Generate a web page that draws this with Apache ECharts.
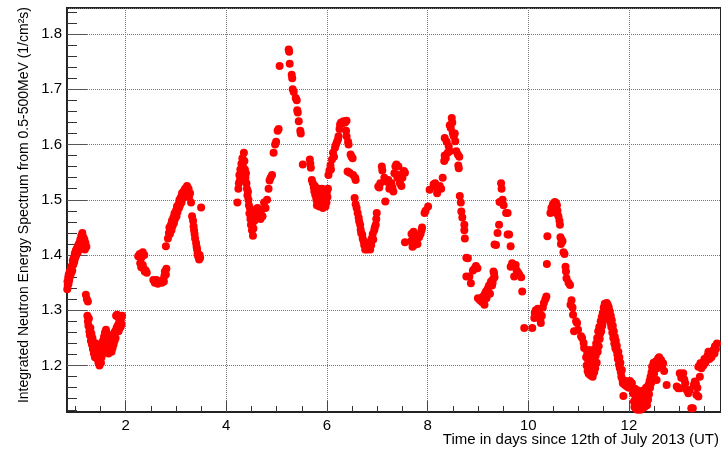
<!DOCTYPE html>
<html>
<head>
<meta charset="utf-8">
<script src="https://cdn.jsdelivr.net/npm/echarts@6/dist/echarts.min.js"></script>
<style>
  html, body { margin: 0; padding: 0; background: #fff; }
  #chart { width: 721px; height: 452px; }
</style>
</head>
<body>
<div id="chart"></div>
<script>
// readings: [day since 12 July 2013, integrated flux 1/cm^2 s]
var block1 = [[0.84,1.338],[0.845,1.352],[0.85,1.345],[0.86,1.360],[0.865,1.348],[0.87,1.365],[0.88,1.355],[0.89,1.370],[0.90,1.362],[0.91,1.375],[0.92,1.368],[0.93,1.380],[0.94,1.372],[0.95,1.390],[0.96,1.383],[0.97,1.395],[0.98,1.388],[0.99,1.403],[1.00,1.395],[1.01,1.408],[1.02,1.400],[1.03,1.412],[1.05,1.405],[1.06,1.418],[1.07,1.410],[1.08,1.422],[1.09,1.412],[1.10,1.428],[1.11,1.418],[1.12,1.435],[1.13,1.425],[1.14,1.440],[1.15,1.420],[1.16,1.432],[1.17,1.415],[1.18,1.428],[1.19,1.410],[1.20,1.422],[1.22,1.415]];
var block2 = [[1.21,1.328],[1.23,1.320],[1.25,1.316],[1.24,1.290],[1.25,1.280],[1.26,1.272],[1.27,1.285],[1.28,1.262],[1.29,1.255],[1.30,1.268],[1.31,1.245],[1.32,1.258],[1.33,1.238],[1.34,1.250],[1.35,1.230],[1.36,1.242],[1.37,1.222],[1.38,1.235],[1.39,1.215],[1.40,1.228],[1.41,1.240],[1.42,1.220],[1.43,1.232],[1.44,1.212],[1.45,1.225],[1.46,1.205],[1.47,1.218],[1.48,1.200],[1.49,1.212],[1.50,1.228],[1.51,1.205],[1.52,1.215],[1.53,1.238],[1.54,1.222],[1.55,1.245],[1.56,1.230],[1.57,1.252],[1.58,1.238],[1.59,1.260],[1.60,1.248],[1.61,1.265],[1.62,1.240],[1.63,1.258],[1.64,1.228],[1.65,1.250],[1.66,1.222],[1.67,1.245],[1.68,1.232],[1.69,1.255],[1.70,1.238],[1.71,1.248],[1.72,1.225],[1.73,1.242],[1.74,1.232],[1.75,1.250],[1.76,1.238],[1.77,1.258],[1.78,1.245],[1.79,1.262],[1.80,1.250],[1.81,1.290],[1.82,1.268],[1.83,1.292],[1.84,1.272],[1.85,1.288],[1.86,1.262],[1.87,1.278],[1.88,1.268],[1.89,1.282],[1.90,1.270],[1.91,1.285],[1.92,1.275],[1.93,1.290]];
var block3 = [[2.25,1.398],[2.28,1.402],[2.31,1.395],[2.34,1.405],[2.37,1.400],[2.29,1.385],[2.31,1.378],[2.34,1.382],[2.36,1.375],[2.38,1.370],[2.40,1.372],[2.42,1.368],[2.55,1.355],[2.58,1.350],[2.61,1.355],[2.64,1.348],[2.66,1.352],[2.72,1.350],[2.74,1.355],[2.76,1.352],[2.77,1.362],[2.78,1.370],[2.80,1.365],[2.81,1.375],[2.80,1.416]];
var block4 = [[2.84,1.430],[2.86,1.440],[2.87,1.450],[2.88,1.438],[2.90,1.455],[2.91,1.445],[2.92,1.462],[2.93,1.452],[2.95,1.468],[2.96,1.458],[2.97,1.475],[2.98,1.465],[3.00,1.480],[3.01,1.470],[3.02,1.488],[3.03,1.478],[3.05,1.492],[3.06,1.485],[3.07,1.500],[3.08,1.490],[3.10,1.505],[3.11,1.495],[3.12,1.512],[3.13,1.502],[3.15,1.515],[3.17,1.505],[3.18,1.520],[3.20,1.510],[3.22,1.525],[3.23,1.515],[3.25,1.520],[3.26,1.505],[3.28,1.512],[3.30,1.495],[3.32,1.470],[3.34,1.462],[3.35,1.452],[3.36,1.445],[3.37,1.438],[3.38,1.430],[3.40,1.422],[3.41,1.415],[3.42,1.410],[3.43,1.403],[3.44,1.398],[3.46,1.392],[3.47,1.400],[3.48,1.395],[3.50,1.486]];
var block5 = [[4.22,1.495],[4.24,1.520],[4.25,1.530],[4.26,1.545],[4.27,1.535],[4.28,1.555],[4.29,1.542],[4.30,1.565],[4.31,1.552],[4.32,1.575],[4.33,1.560],[4.35,1.585],[4.36,1.570],[4.37,1.555],[4.38,1.540],[4.39,1.548],[4.40,1.530],[4.41,1.520],[4.42,1.508],[4.43,1.515],[4.44,1.500],[4.45,1.490],[4.46,1.475],[4.47,1.485],[4.48,1.465],[4.49,1.455],[4.50,1.470],[4.51,1.445],[4.52,1.458],[4.53,1.435],[4.54,1.448],[4.55,1.480],[4.56,1.462],[4.58,1.475],[4.60,1.468],[4.62,1.485],[4.64,1.470],[4.66,1.478],[4.68,1.465],[4.70,1.482],[4.72,1.470],[4.75,1.495],[4.78,1.485],[4.81,1.500],[4.84,1.520],[4.86,1.535],[4.88,1.540],[4.91,1.545],[4.94,1.585],[4.97,1.600],[4.99,1.605],[5.02,1.625],[5.04,1.628]];
var block6 = [[5.06,1.742],[5.24,1.772],[5.25,1.768],[5.26,1.746],[5.30,1.726],[5.31,1.720],[5.32,1.700],[5.34,1.695],[5.38,1.684],[5.40,1.680],[5.41,1.662],[5.42,1.658],[5.44,1.642],[5.47,1.625],[5.48,1.620],[5.52,1.564]];
var block7 = [[5.66,1.573],[5.67,1.565],[5.68,1.558],[5.70,1.536],[5.72,1.530],[5.74,1.522],[5.75,1.515],[5.76,1.525],[5.77,1.508],[5.78,1.518],[5.79,1.500],[5.80,1.490],[5.81,1.512],[5.82,1.495],[5.83,1.520],[5.84,1.505],[5.85,1.488],[5.86,1.515],[5.87,1.498],[5.88,1.510],[5.89,1.492],[5.90,1.520],[5.91,1.505],[5.92,1.485],[5.93,1.512],[5.94,1.495],[5.95,1.518],[5.96,1.500],[5.97,1.488],[5.98,1.510],[5.99,1.495],[6.00,1.515],[6.01,1.505],[6.02,1.520]];
var block8 = [[6.03,1.545],[6.05,1.553],[6.07,1.562],[6.08,1.555],[6.10,1.573],[6.12,1.585],[6.14,1.578],[6.16,1.594],[6.18,1.600],[6.20,1.605],[6.22,1.609],[6.23,1.615],[6.25,1.628],[6.26,1.636],[6.28,1.640],[6.30,1.638],[6.33,1.642],[6.36,1.640],[6.39,1.643],[6.38,1.625],[6.39,1.615],[6.42,1.605],[6.43,1.600],[6.47,1.582],[6.49,1.578],[6.51,1.575],[6.41,1.551],[6.45,1.549],[6.52,1.545],[6.56,1.540],[6.57,1.536]];
var block9 = [[6.55,1.503],[6.57,1.492],[6.59,1.485],[6.61,1.476],[6.63,1.468],[6.64,1.461],[6.66,1.455],[6.67,1.446],[6.68,1.440],[6.70,1.437],[6.71,1.430],[6.73,1.425],[6.74,1.418],[6.76,1.410],[6.78,1.415],[6.80,1.410],[6.82,1.420],[6.84,1.412],[6.86,1.410],[6.87,1.425],[6.88,1.418],[6.89,1.430],[6.91,1.438],[6.92,1.428],[6.94,1.445],[6.95,1.450],[6.97,1.455],[6.98,1.465],[6.99,1.476]];
var block10 = [[7.02,1.524],[7.04,1.522],[7.06,1.530],[7.09,1.560],[7.10,1.553],[7.14,1.540],[7.16,1.497],[7.20,1.532],[7.22,1.536],[7.24,1.520],[7.26,1.528],[7.28,1.530],[7.30,1.522],[7.32,1.515],[7.34,1.548],[7.36,1.560],[7.38,1.564],[7.40,1.540],[7.42,1.560],[7.44,1.545],[7.45,1.530],[7.48,1.525],[7.50,1.540],[7.53,1.552],[7.55,1.549]];
var block11 = [[7.55,1.423],[7.67,1.425],[7.68,1.438],[7.70,1.415],[7.71,1.430],[7.72,1.442],[7.74,1.418],[7.76,1.428],[7.80,1.420],[7.83,1.432],[7.86,1.438],[7.88,1.445],[7.89,1.450],[7.94,1.476],[7.96,1.480],[8.01,1.488],[8.04,1.518],[8.12,1.528],[8.15,1.530],[8.17,1.522],[8.19,1.512],[8.21,1.521],[8.24,1.525],[8.27,1.520],[8.30,1.540]];
var block12 = [[8.33,1.570],[8.34,1.580],[8.36,1.575],[8.34,1.612],[8.38,1.605],[8.40,1.585],[8.42,1.597],[8.44,1.588],[8.44,1.635],[8.46,1.630],[8.48,1.648],[8.49,1.640],[8.50,1.621],[8.52,1.615],[8.54,1.620],[8.55,1.606],[8.57,1.588],[8.60,1.582],[8.61,1.562],[8.63,1.578],[8.62,1.557]];
var block13 = [[8.64,1.507],[8.66,1.495],[8.67,1.479],[8.69,1.468],[8.73,1.455],[8.73,1.445],[8.74,1.430],[8.77,1.395],[8.80,1.394],[8.77,1.361],[8.83,1.361],[8.86,1.349],[8.90,1.372],[8.93,1.375],[8.96,1.380],[8.99,1.376],[9.00,1.322],[9.04,1.318],[9.08,1.315],[9.10,1.325],[9.13,1.310],[9.14,1.330],[9.16,1.334],[9.17,1.322],[9.19,1.337],[9.20,1.340],[9.22,1.345],[9.24,1.330],[9.26,1.352],[9.28,1.345],[9.29,1.349],[9.30,1.356],[9.31,1.370],[9.32,1.367],[9.33,1.360]];
var block14 = [[9.33,1.419],[9.36,1.418],[9.39,1.440],[9.42,1.455],[9.43,1.496],[9.46,1.530],[9.47,1.520],[9.49,1.500],[9.51,1.490],[9.56,1.476],[9.59,1.476],[9.59,1.437],[9.62,1.437],[9.65,1.416],[9.65,1.379],[9.68,1.385],[9.72,1.361],[9.75,1.382],[9.77,1.372],[9.80,1.368],[9.82,1.365],[9.86,1.360],[9.88,1.334],[9.92,1.268]];
var block15 = [[10.08,1.268],[10.12,1.286],[10.13,1.295],[10.15,1.300],[10.17,1.290],[10.19,1.303],[10.20,1.294],[10.22,1.300],[10.24,1.283],[10.25,1.277],[10.27,1.290],[10.29,1.305],[10.31,1.313],[10.34,1.320],[10.36,1.325],[10.37,1.384],[10.38,1.434]];
var block16 = [[10.44,1.476],[10.46,1.485],[10.49,1.492],[10.51,1.494],[10.53,1.496],[10.55,1.494],[10.57,1.490],[10.56,1.476],[10.58,1.480],[10.60,1.470],[10.62,1.462],[10.63,1.455],[10.64,1.432],[10.66,1.428],[10.65,1.420],[10.68,1.425],[10.70,1.405],[10.72,1.402],[10.74,1.379],[10.75,1.370],[10.76,1.358],[10.80,1.350],[10.83,1.346],[10.84,1.310],[10.86,1.318],[10.88,1.305],[10.89,1.292],[10.91,1.262],[10.95,1.280],[10.97,1.277],[10.99,1.265],[11.05,1.253],[11.07,1.250],[11.10,1.241],[11.11,1.232]];
var block17 = [[11.15,1.215],[11.16,1.200],[11.17,1.225],[11.18,1.190],[11.19,1.210],[11.20,1.185],[11.21,1.228],[11.22,1.198],[11.23,1.215],[11.24,1.182],[11.25,1.205],[11.26,1.190],[11.27,1.222],[11.28,1.180],[11.29,1.200],[11.30,1.212],[11.31,1.188],[11.32,1.230],[11.33,1.195],[11.34,1.218],[11.35,1.240],[11.36,1.205],[11.37,1.250],[11.38,1.225],[11.39,1.262],[11.40,1.235],[11.41,1.270],[11.42,1.248],[11.43,1.258],[11.44,1.280],[11.45,1.262],[11.46,1.288],[11.47,1.272],[11.48,1.295],[11.49,1.282],[11.50,1.305],[11.51,1.290],[11.52,1.312],[11.53,1.298],[11.54,1.310],[11.55,1.302],[11.56,1.313],[11.57,1.298],[11.58,1.310],[11.59,1.292],[11.60,1.305],[11.61,1.285],[11.62,1.298],[11.63,1.278],[11.64,1.290],[11.65,1.270],[11.66,1.282],[11.67,1.260],[11.68,1.272],[11.69,1.250],[11.70,1.262],[11.71,1.240],[11.72,1.252],[11.73,1.232],[11.74,1.245],[11.75,1.228],[11.76,1.236],[11.77,1.220],[11.78,1.212],[11.79,1.225],[11.80,1.202],[11.81,1.215],[11.82,1.195],[11.83,1.205],[11.84,1.188],[11.85,1.180],[11.86,1.192],[11.87,1.175],[11.88,1.168],[11.89,1.145],[11.90,1.172],[11.92,1.165],[11.94,1.172],[11.96,1.162],[11.98,1.168],[12.00,1.160],[12.02,1.172],[12.04,1.165],[12.06,1.168]];
var block18 = [[12.08,1.150],[12.10,1.135],[12.11,1.125],[12.12,1.158],[12.13,1.140],[12.14,1.122],[12.15,1.148],[12.16,1.132],[12.17,1.120],[12.18,1.155],[12.19,1.138],[12.20,1.125],[12.21,1.145],[12.22,1.130],[12.23,1.120],[12.24,1.150],[12.25,1.135],[12.26,1.122],[12.27,1.142],[12.28,1.128],[12.29,1.155],[12.30,1.138],[12.31,1.125],[12.32,1.148],[12.33,1.132],[12.34,1.160],[12.35,1.142],[12.36,1.128],[12.37,1.152],[12.38,1.138],[12.39,1.165],[12.40,1.148],[12.41,1.172],[12.42,1.160],[12.43,1.180],[12.44,1.168],[12.45,1.188],[12.46,1.198],[12.47,1.180],[12.48,1.192],[12.49,1.205],[12.50,1.185],[12.52,1.198],[12.54,1.208],[12.55,1.174],[12.56,1.195],[12.58,1.213],[12.59,1.205],[12.60,1.215],[12.62,1.200],[12.64,1.210],[12.66,1.198],[12.68,1.204],[12.70,1.190],[12.75,1.165]];
var block19 = [[12.95,1.162],[12.98,1.159],[13.01,1.186],[13.02,1.159],[13.04,1.178],[13.06,1.180],[13.08,1.186],[13.10,1.175],[13.12,1.168],[13.15,1.156],[13.18,1.150],[13.21,1.156],[13.24,1.123],[13.27,1.123],[13.29,1.165],[13.31,1.171],[13.33,1.168],[13.34,1.147],[13.36,1.160],[13.38,1.144],[13.38,1.198],[13.41,1.180],[13.42,1.204],[13.44,1.195],[13.46,1.205],[13.48,1.200],[13.50,1.212],[13.52,1.205],[13.54,1.210],[13.56,1.218],[13.58,1.225],[13.60,1.212],[13.62,1.220],[13.64,1.215],[13.66,1.225],[13.68,1.228],[13.70,1.222],[13.71,1.235],[13.73,1.230],[13.75,1.240]];

var dayMinorTicks = [1, 1.5, 2.5, 3, 3.5, 4.5, 5, 5.5, 6.5, 7, 7.5, 8.5, 9, 9.5, 10.5, 11, 11.5, 12.5, 13, 13.5];
var fluxMinorTicks = [1.12, 1.14, 1.16, 1.18, 1.22, 1.24, 1.26, 1.28, 1.32, 1.34, 1.36, 1.38, 1.42, 1.44, 1.46, 1.48, 1.52, 1.54, 1.56, 1.58, 1.62, 1.64, 1.66, 1.68, 1.72, 1.74, 1.76, 1.78, 1.82, 1.84];

var xTitle = 'Time in days since 12th of July 2013 (UT)';
var yTitle = 'Integrated Neutron Energy Spectrum from 0.5-500MeV (1/cm\u00b2s)';

var points = [].concat(block1, block2, block3, block4, block5, block6, block7, block8, block9, block10,
  block11, block12, block13, block14, block15, block16, block17, block18, block19);

var font = 'Liberation Sans, Arial, Helvetica, sans-serif';
var xMin = 0.835, xMax = 13.83, yMin = 1.116, yMax = 1.847;

var chart = echarts.init(document.getElementById('chart'), null, { renderer: 'canvas' });
chart.setOption({
  animation: false,
  backgroundColor: '#fff',
  grid: { left: 67, right: -4, top: 8, bottom: 40, show: true, borderColor: '#222', borderWidth: 2 },
  xAxis: [
    {
      type: 'value', min: xMin, max: xMax, splitNumber: 6,
      axisLine: { show: true, lineStyle: { color: '#222', width: 2 } },
      axisTick: { inside: true, length: 11, lineStyle: { color: '#444' } },
      axisLabel: { showMinLabel: false, showMaxLabel: false, margin: 6, color: '#000', fontSize: 15, fontFamily: font },
      splitLine: { show: true, lineStyle: { color: '#777', type: 'dotted', width: 1 } }
    },
    {
      type: 'value', min: xMin, max: xMax, position: 'bottom',
      axisLine: { show: false },
      axisTick: { show: true, inside: true, length: 6, customValues: dayMinorTicks, lineStyle: { color: '#333' } },
      axisLabel: { show: false },
      splitLine: { show: false }
    }
  ],
  yAxis: [
    {
      type: 'value', min: yMin, max: yMax, splitNumber: 7,
      axisLine: { show: true, lineStyle: { color: '#222', width: 1.5 } },
      axisTick: { inside: true, length: 20, lineStyle: { color: '#555' } },
      axisLabel: { showMinLabel: false, showMaxLabel: false, margin: 5, color: '#000', fontSize: 15, fontFamily: font,
        formatter: function(v) { return v.toFixed(1); } },
      splitLine: { show: true, lineStyle: { color: '#777', type: 'dotted', width: 1 } }
    },
    {
      type: 'value', min: yMin, max: yMax, position: 'left',
      axisLine: { show: false },
      axisTick: { show: true, inside: true, length: 10, customValues: fluxMinorTicks, lineStyle: { color: '#333' } },
      axisLabel: { show: false },
      splitLine: { show: false }
    }
  ],
  series: [{
    type: 'scatter',
    xAxisIndex: 0,
    yAxisIndex: 0,
    data: points,
    symbol: 'circle',
    symbolSize: 8,
    itemStyle: { color: '#ff0000', opacity: 1 },
    silent: true
  }],
  graphic: [
    {
      type: 'text', x: 719, y: 440,
      style: { text: xTitle, font: '15px ' + font, fill: '#000', align: 'right', verticalAlign: 'middle' }
    },
    {
      type: 'text', x: 24, y: 7, rotation: Math.PI / 2,
      style: { text: yTitle, font: '14px ' + font, fill: '#000', align: 'right', verticalAlign: 'middle' }
    }
  ]
});
</script>
</body>
</html>
